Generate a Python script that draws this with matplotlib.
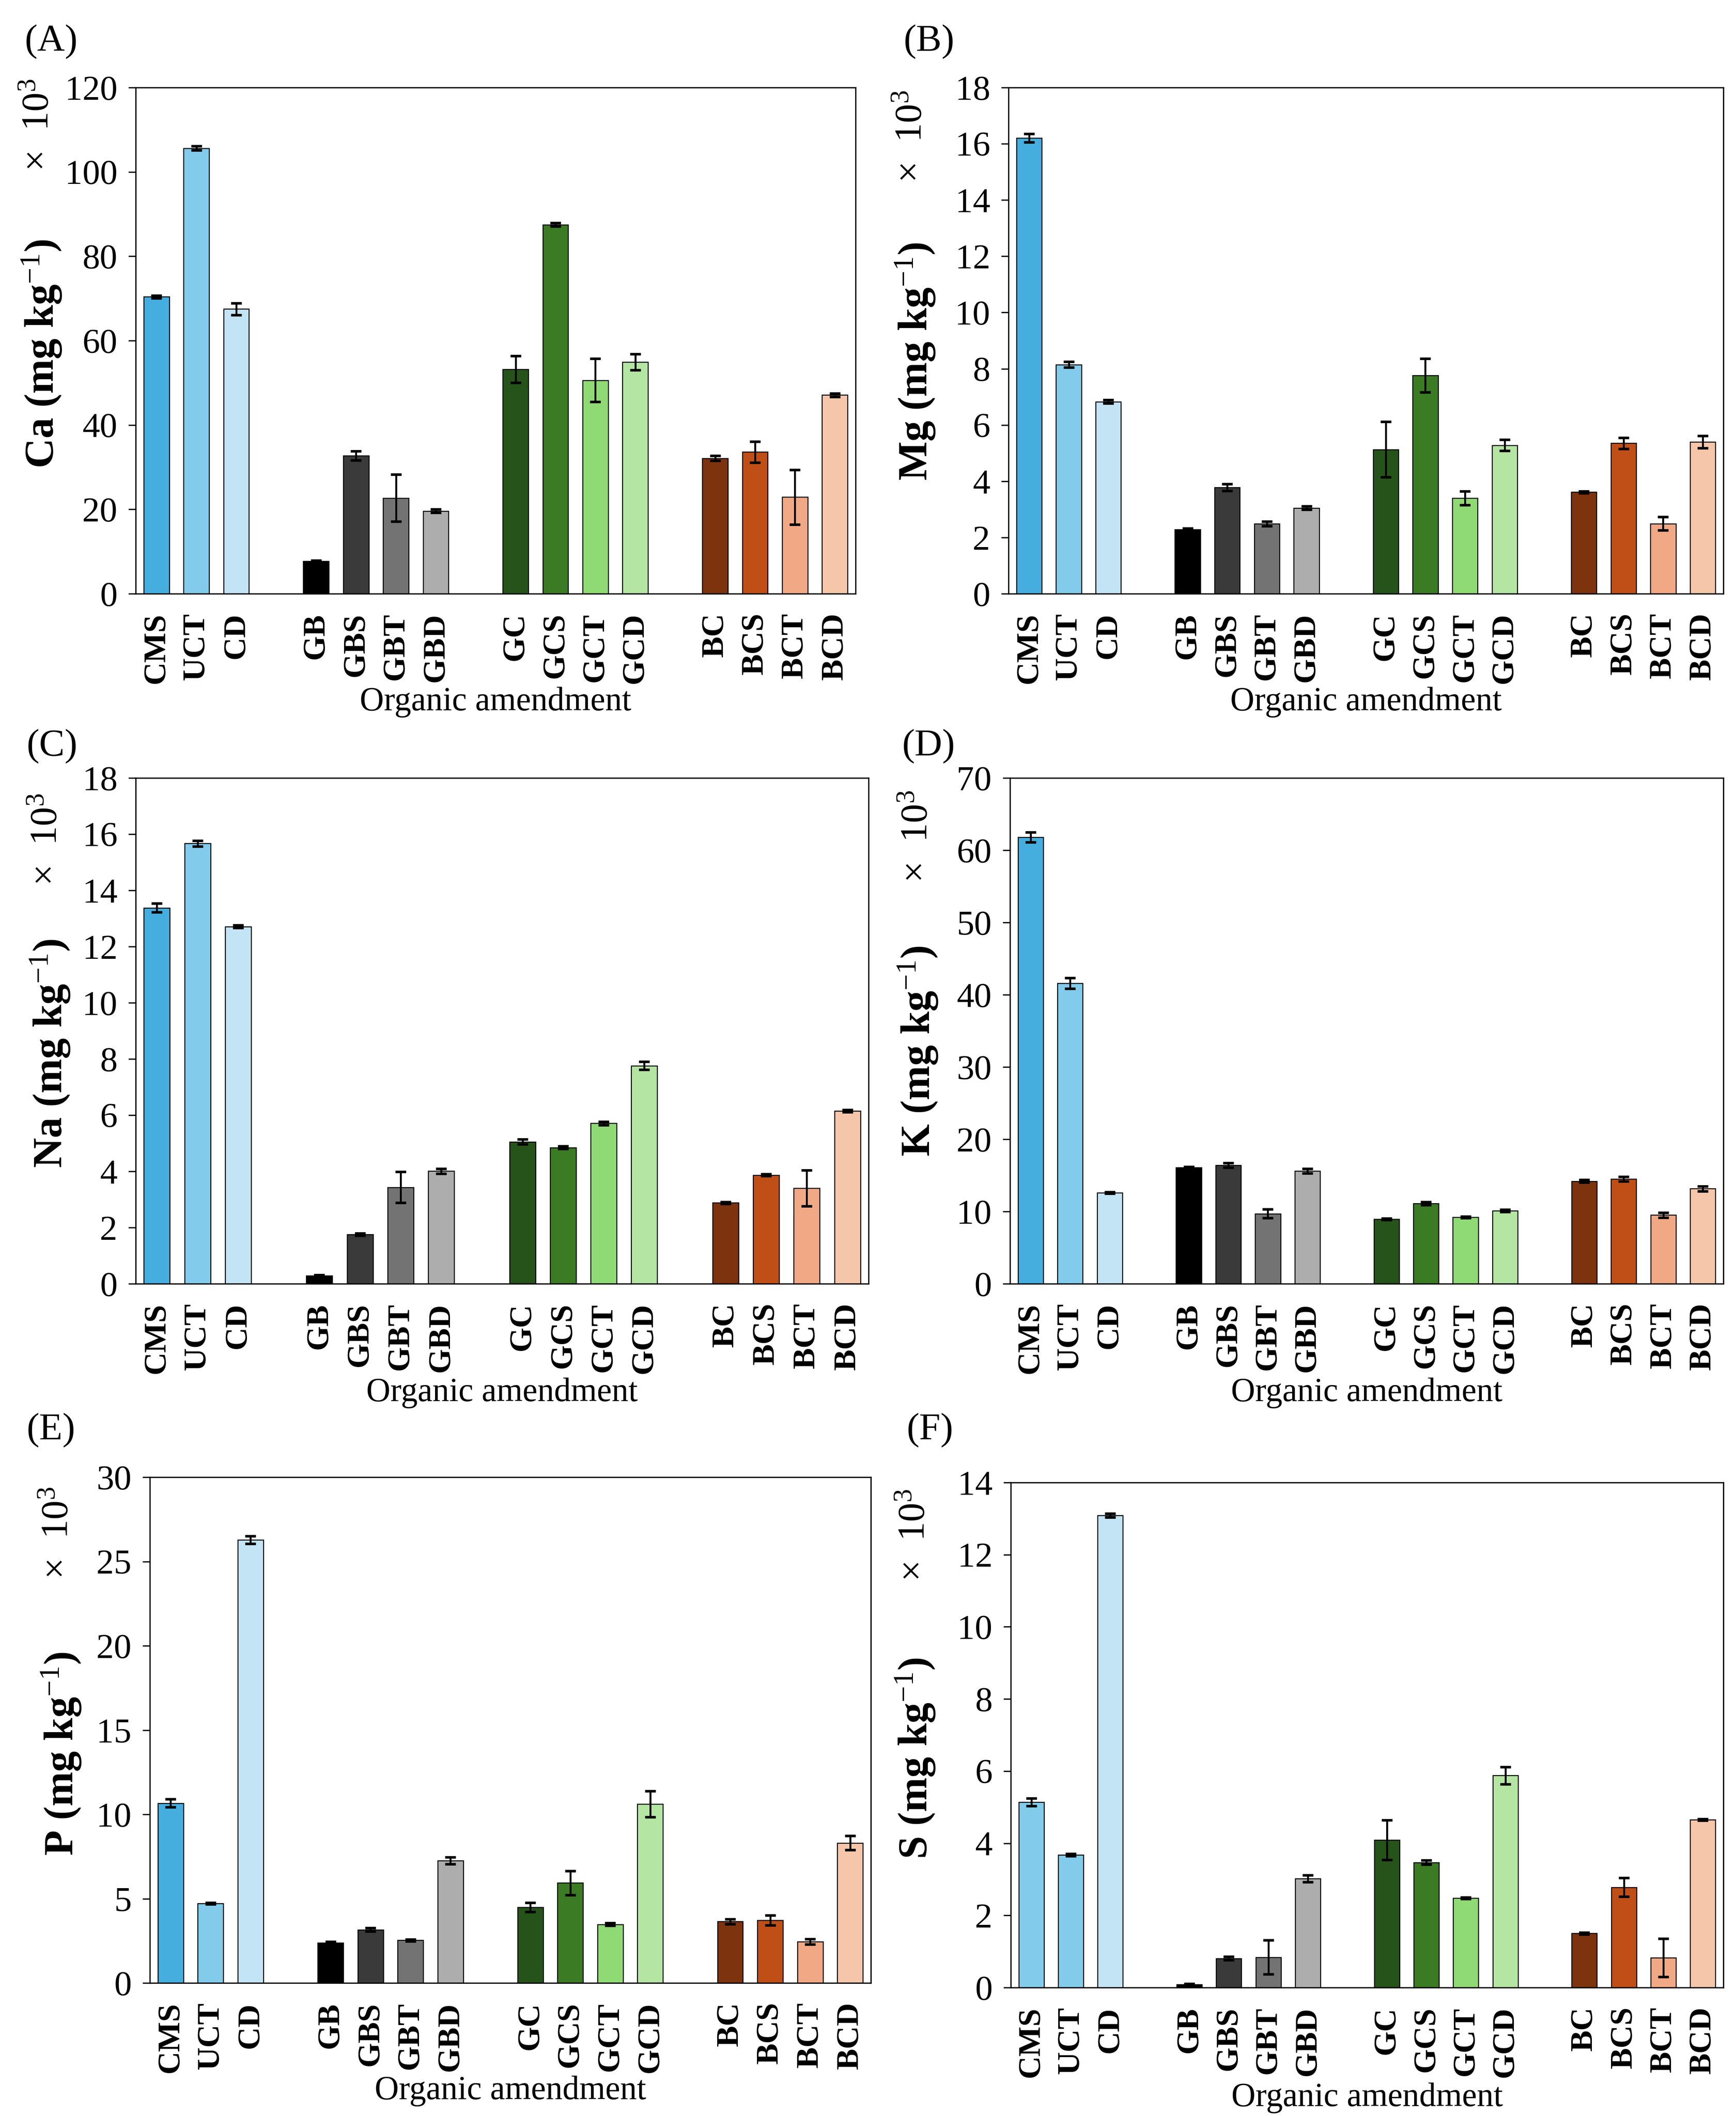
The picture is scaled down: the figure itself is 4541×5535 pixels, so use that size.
import matplotlib
matplotlib.use("Agg")
import matplotlib.pyplot as plt
import numpy as np

plt.rcParams['font.family'] = ['Liberation Serif', 'DejaVu Serif']
plt.rcParams['mathtext.fontset'] = 'custom'
plt.rcParams['mathtext.rm'] = 'Liberation Serif'
plt.rcParams['mathtext.it'] = 'Liberation Serif:italic'
plt.rcParams['mathtext.bf'] = 'Liberation Serif:bold'

# ---------------- data ----------------
categories = ['CMS', 'UCT', 'CD', 'GB', 'GBS', 'GBT', 'GBD',
              'GC', 'GCS', 'GCT', 'GCD', 'BC', 'BCS', 'BCT', 'BCD']
group_sizes = [3, 4, 4, 4]

colors = ['#45AEDF', '#82CBEB', '#C3E4F5',
          '#000000', '#3A3A3A', '#737373', '#ADADAD',
          '#265319', '#3B7B24', '#90DA76', '#B4E5A2',
          '#7E330F', '#BF4F17', '#F1A985', '#F5C6AA']
colors_F = ['#82CBEB'] + colors[1:]

ca_mean = [70.4, 105.6, 67.5, 7.7, 32.7, 22.7, 19.6, 53.2, 87.5, 50.6, 54.9, 32.1, 33.6, 22.9, 47.1]
ca_err = [0.3, 0.5, 1.4, 0.2, 1.1, 5.6, 0.4, 3.2, 0.4, 5.1, 1.9, 0.6, 2.5, 6.5, 0.4]

mg_mean = [16.2, 8.15, 6.83, 2.29, 3.78, 2.49, 3.05, 5.13, 7.76, 3.40, 5.28, 3.61, 5.35, 2.49, 5.40]
mg_err = [0.15, 0.1, 0.06, 0.03, 0.12, 0.08, 0.06, 0.99, 0.6, 0.25, 0.2, 0.03, 0.2, 0.24, 0.22]

na_mean = [13.38, 15.67, 12.71, 0.28, 1.75, 3.43, 4.01, 5.05, 4.85, 5.71, 7.76, 2.88, 3.87, 3.40, 6.15]
na_err = [0.16, 0.1, 0.05, 0.03, 0.04, 0.55, 0.09, 0.09, 0.05, 0.06, 0.14, 0.03, 0.03, 0.64, 0.04]

k_mean = [61.8, 41.6, 12.6, 16.1, 16.4, 9.7, 15.6, 8.95, 11.1, 9.2, 10.1, 14.2, 14.5, 9.5, 13.15]
k_err = [0.67, 0.73, 0.1, 0.1, 0.3, 0.6, 0.3, 0.1, 0.2, 0.1, 0.15, 0.2, 0.3, 0.35, 0.35]

p_mean = [10.66, 4.71, 26.28, 2.39, 3.16, 2.53, 7.26, 4.49, 5.93, 3.48, 10.61, 3.64, 3.72, 2.45, 8.30]
p_err = [0.24, 0.05, 0.23, 0.05, 0.1, 0.05, 0.2, 0.28, 0.72, 0.08, 0.77, 0.15, 0.29, 0.15, 0.42]

s_mean = [5.14, 3.68, 13.09, 0.09, 0.81, 0.84, 3.02, 4.09, 3.47, 2.48, 5.88, 1.50, 2.78, 0.83, 4.65]
s_err = [0.11, 0.03, 0.05, 0.02, 0.05, 0.47, 0.1, 0.55, 0.06, 0.02, 0.24, 0.03, 0.26, 0.53, 0.02]

ylabels = ['Ca', 'Mg', 'Na', 'K', 'P', 'S']
panel_letters = ['(A)', '(B)', '(C)', '(D)', '(E)', '(F)']
ylims = [120, 18, 18, 70, 30, 14]
ysteps = [20, 2, 2, 10, 5, 2]

# ---------------- layout (pixels) ----------------
W, H = 4541, 5535
DPI = 300
fig = plt.figure(figsize=(W / DPI, H / DPI), dpi=DPI)

# left, right, top, bottom in pixels
boxes = [(355, 2238, 229, 1553), (2638, 4508, 229, 1553),
         (355, 2272, 2035, 3358), (2642, 4508, 2035, 3358),
         (392, 2278, 3864, 5187), (2644, 4508, 3878, 5199)]
ylabel_pos = [(109, 925), (2394, 945), (131, 2755), (2401, 2750), (160, 4588), (2394, 4600)]
x10_pos = [(102, 327), (2386, 357), (124, 2196), (2401, 2188), (153, 4010), (2394, 4016)]
letter_pos = [(65, 109), (2364, 109), (70, 1952), (2360, 1952), (70, 3741), (2372, 3741)]
xlabel_y = [1836, 1836, 3643, 3643, 5470, 5488]

# x positions with gaps between groups
xpos = []
start = 0
for g in group_sizes:
    xpos.extend(range(start, start + g))
    start += g + 1
xpos = np.array(xpos)

means = [ca_mean, mg_mean, na_mean, k_mean, p_mean, s_mean]
errs = [ca_err, mg_err, na_err, k_err, p_err, s_err]

for i in range(6):
    l, r, t, b = boxes[i]
    ax = fig.add_axes([l / W, 1 - b / H, (r - l) / W, (b - t) / H])
    cols = colors_F if i == 5 else colors
    ax.bar(xpos, means[i], width=0.64, color=cols, edgecolor='black',
           linewidth=0.6, zorder=2)
    ax.errorbar(xpos, means[i], yerr=errs[i], fmt='none', ecolor='black',
                elinewidth=1.2, capsize=3.4, capthick=1.6, zorder=3)
    ax.set_xlim(xpos[0] - 0.52, xpos[-1] + 0.52)
    ax.set_ylim(0, ylims[i])
    ax.set_yticks(np.arange(0, ylims[i] + 0.001, ysteps[i]))
    ax.set_xticks(xpos)
    ax.set_xticklabels(categories, rotation=90, fontweight='bold', fontsize=20)
    ax.tick_params(axis='x', length=0, pad=12)
    ax.tick_params(axis='y', direction='out', length=4.5, width=0.8,
                   labelsize=22, pad=7)
    for sp in ax.spines.values():
        sp.set_linewidth(0.8)

    ax.set_ylabel(ylabels[i] + r' (mg kg$^{-1}$)', fontsize=26, fontweight='bold')
    yx, yy = ylabel_pos[i]
    ax.yaxis.set_label_coords(yx / W, 1 - yy / H, transform=fig.transFigure)
    ax.yaxis.label.set_rotation_mode('default')
    ax.yaxis.label.set_va('center')
    ax.yaxis.label.set_ha('center')

    ax.set_xlabel('Organic amendment', fontsize=21)
    ax.xaxis.set_label_coords(((l + r) / 2) / W, 1 - xlabel_y[i] / H,
                              transform=fig.transFigure)
    ax.xaxis.label.set_va('center')

    tx, ty = x10_pos[i]
    fig.text(tx / W, 1 - ty / H, '×  10$^{3}$', rotation=90,
             ha='center', va='center', fontsize=24)
    lx, ly = letter_pos[i]
    fig.text(lx / W, 1 - ly / H, panel_letters[i], ha='left', va='center',
             fontsize=24)

fig.savefig('out.png', dpi=DPI, facecolor='white')
